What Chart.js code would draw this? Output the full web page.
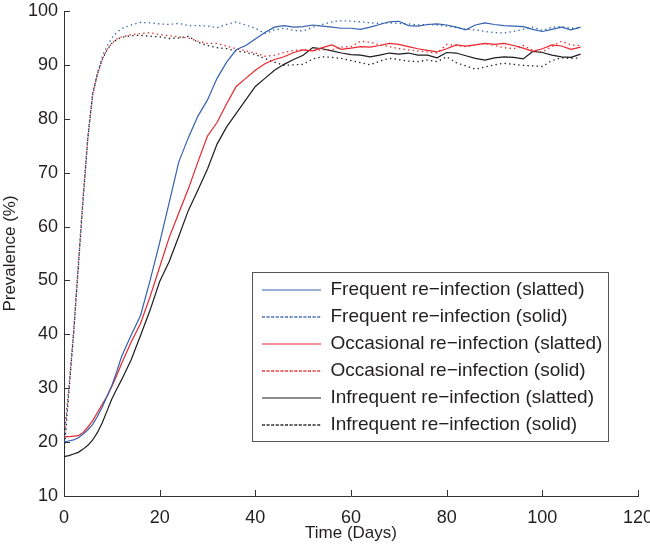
<!DOCTYPE html>
<html>
<head>
<meta charset="utf-8">
<script src="https://cdn.jsdelivr.net/npm/chart.js@4.4.1/dist/chart.umd.min.js"></script>
<style>
  html, body { margin: 0; padding: 0; background: #ffffff; }
  #wrap { width: 650px; height: 547px; }
</style>
</head>
<body>
<div id="wrap"><canvas id="c" width="650" height="547"></canvas></div>
<script>
// ---- data ----
const days = [0,1,2,3,4,5,6,7,8,9,10,11,12,
  14,16,18,20,22,24,26,28,30,32,34,36,38,40,42,44,46,48,50,52,54,56,58,60,
  62,64,66,68,70,72,74,76,78,80,82,84,86,88,90,92,94,96,98,100,102,104,106,108];

const frequentSlatted = [20.0,20.2,20.4,20.8,21.5,22.3,23.3,24.8,26.5,28.5,30.5,33.0,35.8,
  39.8,43.5,50.0,57.0,64.5,72.0,76.5,80.5,83.5,87.5,90.5,92.8,93.6,94.8,96.0,97.0,97.3,97.0,97.1,97.4,97.2,97.0,96.8,96.8,
  96.6,97.0,97.5,98.0,98.1,97.3,97.2,97.5,97.6,97.4,97.0,96.5,97.4,97.8,97.5,97.3,97.2,97.1,96.6,96.2,96.6,97.0,96.5,97.0];

const frequentSolid = [20.0,29.5,40.0,53.0,65.5,77.0,85.0,88.5,91.5,93.5,95.0,96.0,96.7,
  97.4,97.9,97.8,97.6,97.5,97.7,97.3,97.3,97.2,96.9,97.5,98.0,97.4,96.8,95.8,96.5,96.8,96.4,96.3,97.0,97.5,98.0,98.2,98.1,
  98.0,97.8,97.7,97.8,97.7,97.6,97.4,97.5,97.4,97.2,96.9,96.6,96.5,96.2,96.0,95.9,96.2,96.6,97.0,96.4,97.0,97.1,96.8,96.8];

const occasionalSlatted = [21.0,21.0,21.1,21.2,21.8,22.8,24.0,25.5,27.0,28.5,30.3,32.3,34.5,
  38.5,42.0,47.0,52.5,58.0,62.5,67.0,72.0,76.8,79.3,82.8,86.0,87.5,89.0,90.2,91.0,91.5,92.3,92.8,92.6,93.2,93.7,92.9,93.1,
  93.4,93.3,93.6,94.0,93.8,93.4,93.0,92.7,92.4,93.0,93.7,93.5,93.7,94.0,93.8,94.0,93.6,93.1,92.5,93.0,93.7,93.5,92.9,93.3];

const occasionalSolid = [21.0,30.0,40.5,53.0,65.5,76.5,84.5,88.3,91.0,92.8,94.0,94.8,95.2,
  95.6,95.8,96.0,95.6,95.4,95.2,95.0,94.4,94.0,94.0,93.5,93.0,92.6,92.2,91.6,91.8,92.3,92.7,92.8,92.6,92.8,92.8,93.3,93.4,
  94.4,94.2,93.7,93.4,93.0,92.8,92.6,92.4,92.2,93.8,93.6,93.4,93.7,94.0,93.6,93.2,93.0,93.6,92.7,92.4,93.4,94.4,93.7,93.6];

const infrequentSlatted = [17.3,17.5,17.8,18.1,18.7,19.4,20.4,21.8,23.6,25.8,28.0,29.8,31.5,
  35.2,39.8,44.5,49.8,53.5,58.2,63.0,66.8,70.7,75.3,78.5,81.0,83.5,86.0,87.5,89.0,90.1,91.0,91.8,93.2,93.0,92.6,92.2,91.9,
  91.8,91.5,91.8,92.2,92.0,92.2,91.8,91.8,91.3,92.3,92.2,91.7,91.2,90.9,91.3,91.5,91.4,91.1,92.5,92.3,91.8,91.5,91.4,92.0];

const infrequentSolid = [18.0,29.0,40.0,52.5,65.0,76.5,84.5,88.3,91.0,92.8,94.0,94.7,95.1,
  95.4,95.5,95.3,95.2,94.9,95.0,95.3,94.2,93.6,93.2,93.0,92.6,92.3,91.9,91.2,90.5,89.9,90.0,90.1,91.1,91.5,91.4,91.2,90.8,
  90.4,90.0,90.7,91.2,91.0,90.7,90.6,90.9,90.6,91.5,90.4,89.8,89.2,89.6,90.0,90.3,90.1,89.9,89.8,89.7,90.8,91.3,91.2,91.3];

const seriesLabels = [
  'Frequent re\u2212infection (slatted)',
  'Frequent re\u2212infection (solid)',
  'Occasional re\u2212infection (slatted)',
  'Occasional re\u2212infection (solid)',
  'Infrequent re\u2212infection (slatted)',
  'Infrequent re\u2212infection (solid)'
];
const xTicks = [0,20,40,60,80,100,120];
const yTicks = [10,20,30,40,50,60,70,80,90,100];

// ---- styling ----
const BLUE = '#3461b0', RED = '#e8262c', BLACK = '#1c1c1c';
const AXIS = '#333333', TEXT = '#231f20';
const FONT = "'Liberation Sans', Arial, Helvetica, sans-serif";
const DOT = [1.4, 3.2];

function pts(vals) { return vals.map((v, i) => ({ x: days[i], y: v })); }
function ds(label, vals, color, dashed) {
  return {
    label, data: pts(vals), borderColor: color, backgroundColor: 'rgba(0,0,0,0)',
    borderWidth: dashed ? 1.3 : 1.2, borderDash: dashed ? DOT : [],
    pointRadius: 0, tension: 0, fill: false
  };
}

const inwardTicks = {
  id: 'inwardTicks',
  afterDraw(chart) {
    const { ctx, chartArea, scales } = chart;
    ctx.save();
    ctx.strokeStyle = AXIS; ctx.lineWidth = 1;
    const L = 6;
    scales.x.ticks.forEach(t => {
      const px = Math.round(scales.x.getPixelForValue(t.value)) + 0.5;
      ctx.beginPath(); ctx.moveTo(px, chartArea.bottom); ctx.lineTo(px, chartArea.bottom - L); ctx.stroke();
    });
    scales.y.ticks.forEach(t => {
      const py = Math.round(scales.y.getPixelForValue(t.value)) + 0.5;
      ctx.beginPath(); ctx.moveTo(chartArea.left, py); ctx.lineTo(chartArea.left + L, py); ctx.stroke();
    });
    ctx.restore();
  }
};

const legendPlace = {
  id: 'legendPlace',
  afterLayout(chart) {
    const lg = chart.legend;
    const w = lg.width, h = lg.height;
    lg.left = 254; lg.top = 272.5; lg.right = lg.left + w; lg.bottom = lg.top + h;
  },
  afterDraw(chart) {
    const { ctx } = chart;
    ctx.save();
    ctx.strokeStyle = '#555555'; ctx.lineWidth = 1;
    ctx.strokeRect(252.5, 272.5, 356, 169);
    ctx.restore();
  }
};

new Chart(document.getElementById('c'), {
  type: 'line',
  data: {
    datasets: [
      ds(seriesLabels[0], frequentSlatted, BLUE, false),
      ds(seriesLabels[1], frequentSolid, BLUE, true),
      ds(seriesLabels[2], occasionalSlatted, RED, false),
      ds(seriesLabels[3], occasionalSolid, RED, true),
      ds(seriesLabels[4], infrequentSlatted, BLACK, false),
      ds(seriesLabels[5], infrequentSolid, BLACK, true)
    ]
  },
  options: {
    responsive: false,
    animation: false,
    devicePixelRatio: 1,
    layout: { padding: { top: 11, right: 12, bottom: 0, left: 0 } },
    plugins: {
      legend: {
        position: 'chartArea',
        align: 'start',
        labels: {
          font: { family: FONT, size: 19 },
          color: TEXT,
          usePointStyle: false,
          boxWidth: 59,
          boxHeight: 0,
          padding: 8
        }
      },
      tooltip: { enabled: false }
    },
    scales: {
      x: {
        type: 'linear', min: 0, max: 120,
        afterBuildTicks(s) { s.ticks = xTicks.map(v => ({ value: v })); },
        afterFit(s) { s.height = 51; s.paddingLeft = 0; s.paddingRight = 0; },
        grid: { display: true, drawOnChartArea: false, drawTicks: false },
        border: { display: true, color: AXIS, width: 1 },
        ticks: { font: { family: FONT, size: 18 }, color: TEXT, padding: 11, maxRotation: 0, autoSkip: false },
        title: { display: true, text: 'Time (Days)', font: { family: FONT, size: 17 }, color: TEXT, padding: { top: 0, bottom: 3 } }
      },
      y: {
        type: 'linear', min: 10, max: 100,
        afterBuildTicks(s) { s.ticks = yTicks.map(v => ({ value: v })); },
        afterFit(s) { s.width = 64; s.paddingTop = 0; s.paddingBottom = 0; },
        grid: { display: true, drawOnChartArea: false, drawTicks: false },
        border: { display: true, color: AXIS, width: 1 },
        ticks: { font: { family: FONT, size: 18 }, color: TEXT, padding: 6, autoSkip: false },
        title: { display: true, text: 'Prevalence (%)', font: { family: FONT, size: 17 }, color: TEXT, padding: { top: 0, bottom: 0 } }
      }
    }
  },
  plugins: [inwardTicks, legendPlace]
});
</script>
</body>
</html>
